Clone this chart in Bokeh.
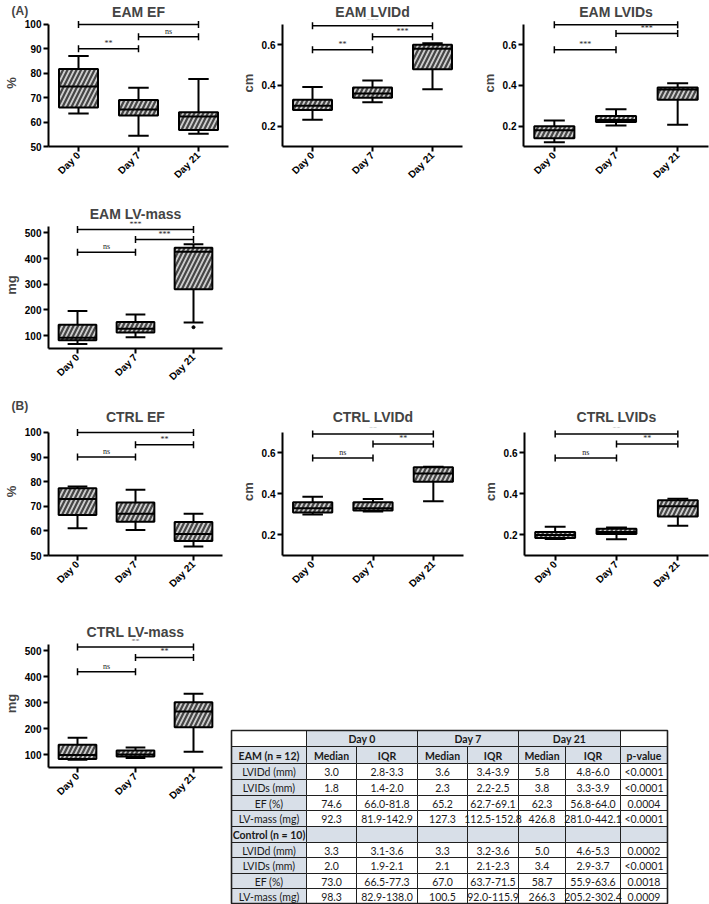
import math
from bokeh.plotting import figure
from bokeh.models import FactorRange, Range1d, FixedTicker, Title, LabelSet, ColumnDataSource
from bokeh.transform import dodge
from bokeh.layouts import column, row
from bokeh.embed import file_html
from bokeh.resources import INLINE
from bokeh.core.properties import value

days = ["Day 0", "Day 7", "Day 21"]

# ---------------- box-plot data (whisker low, Q1, median, Q3, whisker high) -------------
eam_ef_low = [63.5, 54.4, 55.2]
eam_ef_q1 = [66.0, 62.7, 56.8]
eam_ef_med = [74.6, 65.2, 62.3]
eam_ef_q3 = [81.8, 69.1, 64.0]
eam_ef_high = [87.1, 74.1, 77.7]

eam_lvidd_low = [0.231, 0.318, 0.381]
eam_lvidd_q1 = [0.28, 0.34, 0.48]
eam_lvidd_med = [0.30, 0.36, 0.58]
eam_lvidd_q3 = [0.33, 0.39, 0.60]
eam_lvidd_high = [0.393, 0.424, 0.608]

eam_lvids_low = [0.121, 0.203, 0.207]
eam_lvids_q1 = [0.14, 0.22, 0.33]
eam_lvids_med = [0.18, 0.23, 0.38]
eam_lvids_q3 = [0.20, 0.25, 0.39]
eam_lvids_high = [0.228, 0.283, 0.411]

eam_mass_low = [68, 94, 151]
eam_mass_q1 = [81.9, 112.5, 281.0]
eam_mass_med = [92.3, 127.3, 426.8]
eam_mass_q3 = [142.9, 152.8, 442.1]
eam_mass_high = [196, 182, 456]
eam_mass_outlier_day = ["Day 21"]
eam_mass_outlier_val = [133]

ctrl_ef_low = [61.1, 60.4, 53.7]
ctrl_ef_q1 = [66.5, 63.7, 55.9]
ctrl_ef_med = [73.0, 67.0, 58.7]
ctrl_ef_q3 = [77.3, 71.5, 63.6]
ctrl_ef_high = [78.0, 76.7, 67.0]

ctrl_lvidd_low = [0.300, 0.315, 0.364]
ctrl_lvidd_q1 = [0.31, 0.32, 0.46]
ctrl_lvidd_med = [0.33, 0.33, 0.50]
ctrl_lvidd_q3 = [0.36, 0.36, 0.53]
ctrl_lvidd_high = [0.386, 0.376, 0.533]

ctrl_lvids_low = [0.180, 0.179, 0.245]
ctrl_lvids_q1 = [0.185, 0.205, 0.29]
ctrl_lvids_med = [0.20, 0.215, 0.34]
ctrl_lvids_q3 = [0.215, 0.23, 0.37]
ctrl_lvids_high = [0.240, 0.237, 0.377]

ctrl_mass_low = [80, 87, 111]
ctrl_mass_q1 = [82.9, 92.0, 205.2]
ctrl_mass_med = [98.3, 100.5, 266.3]
ctrl_mass_q3 = [138.0, 115.9, 302.4]
ctrl_mass_high = [165, 127, 335]

# significance brackets
sig_from = ["Day 0", "Day 7", "Day 0"]
sig_to = ["Day 21", "Day 21", "Day 7"]
eam_ef_sig_y = [100, 95, 90]
eam_ef_sig = ["**", "ns", "**"]
eam_lvidd_sig_y = [0.694, 0.640, 0.576]
eam_lvidd_sig = ["***", "***", "**"]
eam_lvids_sig_y = [0.698, 0.655, 0.576]
eam_lvids_sig = ["***", "***", "***"]
eam_mass_sig_y = [513, 474, 425]
eam_mass_sig = ["***", "***", "ns"]
ctrl_ef_sig_y = [100, 95, 90]
ctrl_ef_sig = ["*", "**", "ns"]
ctrl_lvidd_sig_y = [0.693, 0.644, 0.576]
ctrl_lvidd_sig = ["**", "**", "ns"]
ctrl_lvids_sig_y = [0.693, 0.644, 0.576]
ctrl_lvids_sig = ["**", "**", "ns"]
ctrl_mass_sig_y = [515, 475, 420]
ctrl_mass_sig = ["**", "**", "ns"]

# axis ticks
ef_ticks = [50, 60, 70, 80, 90, 100]
ef_tick_labels = ["50", "60", "70", "80", "90", "100"]
lvid_ticks = [0.2, 0.4, 0.6]
lvid_tick_labels = ["0.2", "0.4", "0.6"]
mass_ticks = [100, 200, 300, 400, 500]
mass_tick_labels = ["100", "200", "300", "400", "500"]

# ---------------- table data ----------------
tbl_days = ["Day 0", "Day 7", "Day 21"]
tbl_sub = ["Median", "IQR"]
tbl_groups = ["EAM (n = 12)", "Control (n = 10)"]
tbl_rows = ["LVIDd (mm)", "LVIDs (mm)", "EF (%)", "LV-mass (mg)"]
eam_d0_med = ["3.0", "1.8", "74.6", "92.3"]
eam_d0_iqr = ["2.8-3.3", "1.4-2.0", "66.0-81.8", "81.9-142.9"]
eam_d7_med = ["3.6", "2.3", "65.2", "127.3"]
eam_d7_iqr = ["3.4-3.9", "2.2-2.5", "62.7-69.1", "112.5-152.8"]
eam_d21_med = ["5.8", "3.8", "62.3", "426.8"]
eam_d21_iqr = ["4.8-6.0", "3.3-3.9", "56.8-64.0", "281.0-442.1"]
eam_p = ["<0.0001", "<0.0001", "0.0004", "<0.0001"]
ctrl_d0_med = ["3.3", "2.0", "73.0", "98.3"]
ctrl_d0_iqr = ["3.1-3.6", "1.9-2.1", "66.5-77.3", "82.9-138.0"]
ctrl_d7_med = ["3.3", "2.1", "67.0", "100.5"]
ctrl_d7_iqr = ["3.2-3.6", "2.1-2.3", "63.7-71.5", "92.0-115.9"]
ctrl_d21_med = ["5.0", "3.4", "58.7", "266.3"]
ctrl_d21_iqr = ["4.6-5.3", "2.9-3.7", "55.9-63.6", "205.2-302.4"]
ctrl_p = ["0.0002", "<0.0001", "0.0018", "0.0009"]

# ---------------- styling ----------------
FONT = "Liberation Sans"
EXTRA_PX = 5
BOX_FILL = "#cdcdcd"
HATCH = "#454545"


def box_fig(title, ylabel, lo, hi, ticks, tick_labels, low, q1, med, q3, high,
            sig_y, sig_lab, width, mbl, mbr, mbt, axis_px, mbb, panel=None,
            title_standoff=0, out_day=None, out_val=None):
    upp = (hi - lo) / axis_px
    frame_h = axis_px + EXTRA_PX
    height = mbt + frame_h + mbb
    p = figure(width=width, height=height,
               x_range=FactorRange(*days, range_padding=0),
               y_range=Range1d(lo, hi + EXTRA_PX * upp),
               toolbar_location=None, output_backend="svg",
               min_border_left=mbl, min_border_right=mbr,
               min_border_top=mbt, min_border_bottom=mbb)
    p.title.text = title
    p.title.text_font = FONT
    p.title.text_font_size = "14px"
    p.title.text_font_style = "bold"
    p.title.align = "center"
    p.title.standoff = title_standoff
    p.outline_line_color = None
    p.xgrid.visible = False
    p.ygrid.visible = False

    for ax in (p.xaxis[0], p.yaxis[0]):
        ax.axis_line_width = 2
        ax.axis_line_color = "black"
        ax.major_tick_line_width = 2
        ax.major_tick_line_color = "black"
        ax.major_tick_out = 5
        ax.major_tick_in = 0
        ax.minor_tick_line_color = None
        ax.major_label_text_font = FONT
        ax.major_label_text_font_style = "bold"
        ax.major_label_text_font_size = "10px"
        ax.major_label_text_color = "black"
        ax.major_label_standoff = 2
    p.xaxis.major_label_orientation = math.pi / 4
    p.yaxis.ticker = FixedTicker(ticks=ticks)
    p.yaxis.major_label_overrides = {t: l for t, l in zip(ticks, tick_labels)}
    p.yaxis.bounds = (lo, hi)
    p.yaxis.axis_label = ylabel
    p.yaxis.axis_label_text_font = FONT
    p.yaxis.axis_label_text_font_style = "bold"
    p.yaxis.axis_label_text_font_size = "13px"
    p.yaxis.axis_label_standoff = 3

    src = ColumnDataSource(dict(day=days, low=low, q1=q1, med=med, q3=q3, high=high))
    p.segment(x0="day", y0="q3", x1="day", y1="high", source=src, line_color="black", line_width=2)
    p.segment(x0="day", y0="q1", x1="day", y1="low", source=src, line_color="black", line_width=2)
    p.segment(x0=dodge("day", -0.17, range=p.x_range), y0="high",
              x1=dodge("day", 0.17, range=p.x_range), y1="high",
              source=src, line_color="black", line_width=2)
    p.segment(x0=dodge("day", -0.17, range=p.x_range), y0="low",
              x1=dodge("day", 0.17, range=p.x_range), y1="low",
              source=src, line_color="black", line_width=2)
    p.vbar(x="day", bottom="q1", top="q3", width=0.65, source=src,
           fill_color=BOX_FILL, hatch_pattern="/", hatch_color=HATCH,
           hatch_weight=2.2, hatch_scale=9, line_color="black", line_width=2)
    p.segment(x0=dodge("day", -0.325, range=p.x_range), y0="med",
              x1=dodge("day", 0.325, range=p.x_range), y1="med",
              source=src, line_color="black", line_width=2)
    if out_day is not None:
        p.scatter(x=out_day, y=out_val, size=3, color="black")

    mx = [(days.index(a) + days.index(b)) / 2 + 0.5 for a, b in zip(sig_from, sig_to)]
    ssrc = ColumnDataSource(dict(x0=sig_from, x1=sig_to, y=sig_y, lab=sig_lab, mx=mx))
    p.segment(x0="x0", y0="y", x1="x1", y1="y", source=ssrc, line_color="black", line_width=1.5)
    p.scatter(x="x0", y="y", source=ssrc, marker="dash", angle=math.pi / 2, size=7,
              line_color="black", line_width=1.5)
    p.scatter(x="x1", y="y", source=ssrc, marker="dash", angle=math.pi / 2, size=7,
              line_color="black", line_width=1.5)
    p.add_layout(LabelSet(x="mx", y="y", text="lab", source=ssrc, text_align="center",
                          text_baseline="bottom", text_font_size="8px", y_offset=1,
                          text_font=FONT, text_color="#222222"))
    if panel is not None:
        p.add_layout(Title(text=panel[0], align="left", offset=-(mbl - 2),
                           vertical_align="top", standoff=panel[1], text_font=FONT,
                           text_font_size="12px", text_font_style="bold"), "above")
    return p


# row 1
a1 = box_fig("EAM EF", "%", 50, 100, ef_ticks, ef_tick_labels,
             eam_ef_low, eam_ef_q1, eam_ef_med, eam_ef_q3, eam_ef_high,
             eam_ef_sig_y, eam_ef_sig, 237, 39, 9, 19, 123, 40, panel=("(A)", -32))
a2 = box_fig("EAM LVIDd", "cm", 0.1, 0.7, lvid_ticks, lvid_tick_labels,
             eam_lvidd_low, eam_lvidd_q1, eam_lvidd_med, eam_lvidd_q3, eam_lvidd_high,
             eam_lvidd_sig_y, eam_lvidd_sig, 235, 40, 10, 19, 123, 40)
a3 = box_fig("EAM LVIDs", "cm", 0.1, 0.7, lvid_ticks, lvid_tick_labels,
             eam_lvids_low, eam_lvids_q1, eam_lvids_med, eam_lvids_q3, eam_lvids_high,
             eam_lvids_sig_y, eam_lvids_sig, 237, 51, 1, 19, 123, 40)
# row 2
a4 = box_fig("EAM LV-mass", "mg", 50, 525, mass_ticks, mass_tick_labels,
             eam_mass_low, eam_mass_q1, eam_mass_med, eam_mass_q3, eam_mass_high,
             eam_mass_sig_y, eam_mass_sig, 232, 39, 10, 34, 123, 40,
             out_day=eam_mass_outlier_day, out_val=eam_mass_outlier_val)
# row 3
c1 = box_fig("CTRL EF", "%", 50, 100, ef_ticks, ef_tick_labels,
             ctrl_ef_low, ctrl_ef_q1, ctrl_ef_med, ctrl_ef_q3, ctrl_ef_high,
             ctrl_ef_sig_y, ctrl_ef_sig, 237, 39, 15, 38, 124, 40, panel=("(B)", -58),
             title_standoff=6)
c2 = box_fig("CTRL LVIDd", "cm", 0.1, 0.7, lvid_ticks, lvid_tick_labels,
             ctrl_lvidd_low, ctrl_lvidd_q1, ctrl_lvidd_med, ctrl_lvidd_q3, ctrl_lvidd_high,
             ctrl_lvidd_sig_y, ctrl_lvidd_sig, 235, 39, 9, 38, 124, 40, title_standoff=6)
c3 = box_fig("CTRL LVIDs", "cm", 0.1, 0.7, lvid_ticks, lvid_tick_labels,
             ctrl_lvids_low, ctrl_lvids_q1, ctrl_lvids_med, ctrl_lvids_q3, ctrl_lvids_high,
             ctrl_lvids_sig_y, ctrl_lvids_sig, 237, 52, 1, 38, 124, 40, title_standoff=6)
# row 4
c4 = box_fig("CTRL LV-mass", "mg", 50, 525, mass_ticks, mass_tick_labels,
             ctrl_mass_low, ctrl_mass_q1, ctrl_mass_med, ctrl_mass_q3, ctrl_mass_high,
             ctrl_mass_sig_y, ctrl_mass_sig, 228, 39, 6, 43, 123, 137)

# ---------------- table ----------------
TW, TH = 481, 308
t = figure(width=TW, height=TH, x_range=Range1d(0, TW), y_range=Range1d(TH, 0),
           x_axis_type=None, y_axis_type=None, toolbar_location=None,
           output_backend="svg", min_border=0)
t.outline_line_color = None
t.xgrid.visible = False
t.ygrid.visible = False

col_edges = [3, 78, 128, 189, 239, 290, 337, 392, 439]
row_edges = [134, 150, 167, 183, 199, 214, 230, 246, 261, 277, 292, 307]

SHADE = "#d8dfe8"
cells = dict(l=[], r=[], t=[], b=[], fill=[], txt=[], xs=[], ys=[], style=[])


def cell(c0, c1, r, fill, txt, bold):
    l, rr = col_edges[c0], col_edges[c1]
    tp, bt = row_edges[r], row_edges[r + 1]
    cells["l"].append(l); cells["r"].append(rr)
    cells["t"].append(tp); cells["b"].append(bt)
    cells["fill"].append(fill); cells["txt"].append(txt)
    cells["xs"].append((l + rr) / 2); cells["ys"].append((tp + bt) / 2 + 0.5)
    cells["style"].append("bold" if bold else "normal")


cell(0, 1, 0, "white", "", False)
for i, d in enumerate(tbl_days):
    cell(1 + 2 * i, 3 + 2 * i, 0, SHADE, d, True)
cell(7, 8, 0, "white", "", False)
cell(0, 1, 1, SHADE, tbl_groups[0], True)
for i in range(3):
    cell(1 + 2 * i, 2 + 2 * i, 1, SHADE, tbl_sub[0], True)
    cell(2 + 2 * i, 3 + 2 * i, 1, SHADE, tbl_sub[1], True)
cell(7, 8, 1, SHADE, "p-value", True)

eam_cols = [eam_d0_med, eam_d0_iqr, eam_d7_med, eam_d7_iqr, eam_d21_med, eam_d21_iqr, eam_p]
ctrl_cols = [ctrl_d0_med, ctrl_d0_iqr, ctrl_d7_med, ctrl_d7_iqr, ctrl_d21_med, ctrl_d21_iqr, ctrl_p]
for k, lab in enumerate(tbl_rows):
    r = 2 + k
    cell(0, 1, r, SHADE, lab, False)
    for j, colv in enumerate(eam_cols):
        cell(1 + j, 2 + j, r, "white", colv[k], False)
cell(0, 1, 6, SHADE, tbl_groups[1], True)
for j in range(7):
    cell(1 + j, 2 + j, 6, SHADE, "", False)
for k, lab in enumerate(tbl_rows):
    r = 7 + k
    cell(0, 1, r, SHADE, lab, False)
    for j, colv in enumerate(ctrl_cols):
        cell(1 + j, 2 + j, r, "white", colv[k], False)

csrc = ColumnDataSource(cells)
t.quad(left="l", right="r", top="t", bottom="b", fill_color="fill", source=csrc,
       line_color="#202020", line_width=1)
t.quad(left=[col_edges[0]], right=[col_edges[-1]], top=[row_edges[0]], bottom=[row_edges[-1]],
       fill_color=None, line_color="#202020", line_width=1.6)
t.text(x="xs", y="ys", text="txt", source=csrc, text_align="center", text_baseline="middle",
       text_font=value("Lato"), text_font_size="10.5px", text_font_style="style",
       text_color="#1a1a1a")

layout = column(row(a1, a2, a3), row(a4), row(c1, c2, c3), row(column(c4), column(t)))
open("out.html", "w").write(file_html(layout, INLINE))
